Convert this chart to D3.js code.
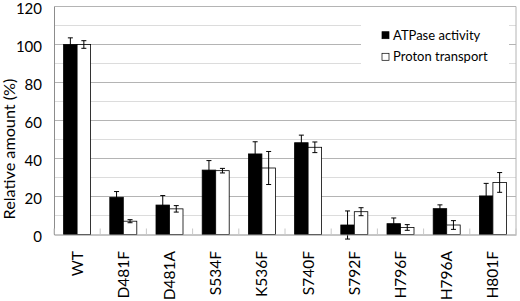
<!DOCTYPE html>
<html><head><meta charset="utf-8">
<script src="https://cdn.jsdelivr.net/npm/d3@7"></script>
<style>body{margin:0;background:#fff}svg{display:block}text{font-family:Lato,"Open Sans",sans-serif}</style>
</head><body><svg id="c" width="520" height="301"></svg>
<script>
const categories = ["WT","D481F","D481A","S534F","K536F","S740F","S792F","H796F","H796A","H801F"];
const atpase = [100,19.6,15.5,33.9,42.4,48.3,5,5.7,13.6,20.3];
const atpaseErr = [3.5,3,5,5,6.4,4,7.4,3,2,6.6];
const proton = [100,7,13.5,33.6,35,45.9,12,3.7,5,27.4];
const protonErr = [2,0.8,1.7,1.2,8.7,2.8,2.1,1.5,2.3,5.2];
const yTicks = [0,20,40,60,80,100,120];
const seriesNames = ["ATPase activity","Proton transport"];

const svg = d3.select("#c");
const L=54,R=516,T=6.5,B=234.5;
const x = d3.scaleBand().domain(categories).range([L,R]);
const y = d3.scaleLinear().domain([0,120]).range([B,T]);
const sub = d3.scaleBand().domain([0,1]).range([0,27]);

// minor grid
svg.append("g").selectAll("line").data(d3.range(10,120,20)).join("line")
 .attr("x1",L).attr("x2",R).attr("y1",d=>y(d)).attr("y2",d=>y(d))
 .attr("stroke","#dcdcdc").attr("stroke-width",1);
// major grid
svg.append("g").selectAll("line").data(yTicks.slice(1)).join("line")
 .attr("x1",L).attr("x2",R).attr("y1",d=>y(d)).attr("y2",d=>y(d))
 .attr("stroke","#b4b4b4").attr("stroke-width",1);
// right border
svg.append("line").attr("x1",R).attr("x2",R).attr("y1",T).attr("y2",B).attr("stroke","#b4b4b4");

// legend background
svg.append("rect").attr("x",361).attr("y",18).attr("width",148).attr("height",54).attr("fill","#fff");

const series=[{v:atpase,e:atpaseErr,fill:"#000"},{v:proton,e:protonErr,fill:"#fff"}];
series.forEach((s,si)=>{
  const g=svg.append("g");
  g.selectAll("rect").data(categories).join("rect")
   .attr("x",(c)=>x(c)+x.bandwidth()/2-13.5+sub(si))
   .attr("y",(c,i)=>y(s.v[i]))
   .attr("width",sub.bandwidth())
   .attr("height",(c,i)=>B-y(s.v[i]))
   .attr("fill",s.fill).attr("stroke","#000").attr("stroke-width",0.8);
});
series.forEach((s,si)=>{
  const g=svg.append("g").attr("stroke","#000").attr("stroke-width",1);
  categories.forEach((c,i)=>{
    const cx=x(c)+x.bandwidth()/2-13.5+sub(si)+sub.bandwidth()/2;
    const y1=y(s.v[i]+s.e[i]), y2=y(s.v[i]-s.e[i]);
    g.append("line").attr("x1",cx).attr("x2",cx).attr("y1",y1).attr("y2",y2);
    g.append("line").attr("x1",cx-2.5).attr("x2",cx+2.5).attr("y1",y1).attr("y2",y1);
    g.append("line").attr("x1",cx-2.5).attr("x2",cx+2.5).attr("y1",y2).attr("y2",y2);
  });
});

// axes
const yAxis = svg.append("g").attr("transform",`translate(${L},0)`)
  .call(d3.axisLeft(y).tickValues(yTicks).tickSize(0).tickPadding(12));
yAxis.select(".domain").attr("stroke","#8c8c8c");
yAxis.selectAll("text").attr("font-size",15).attr("fill","#000").attr("dy","0.45em").style("font-family","Lato");

const xAxis = svg.append("g").attr("transform",`translate(0,${B})`)
  .call(d3.axisBottom(x).tickSize(0).tickPadding(0));
xAxis.select(".domain").attr("stroke","#8c8c8c");
xAxis.selectAll("text").attr("font-size",15.5).attr("fill","#000").style("font-family","Lato")
  .attr("text-anchor","end").attr("dy","0.35em")
  .attr("transform","translate(0,16.5) rotate(-90)").attr("x",0).attr("y",0);
// inner category separator ticks
svg.append("g").selectAll("line").data(d3.range(categories.length+1)).join("line")
 .attr("x1",i=>L+i*x.step()).attr("x2",i=>L+i*x.step())
 .attr("y1",B).attr("y2",B-6).attr("stroke","#c8c8c8");

// y title
svg.append("text").attr("transform","translate(15,149) rotate(-90)")
 .attr("text-anchor","middle").attr("font-size",16.2).text("Relative amount (%)");

// legend
const lg=svg.append("g");
seriesNames.forEach((n,i)=>{
  lg.append("rect").attr("x",382).attr("y",31.7+i*21.6).attr("width",7).attr("height",7)
   .attr("fill",series[i].fill).attr("stroke","#000").attr("stroke-width",0.7);
  lg.append("text").attr("x",393).attr("y",39.5+i*21.6).attr("font-size",13).text(n);
});
</script></body></html>
